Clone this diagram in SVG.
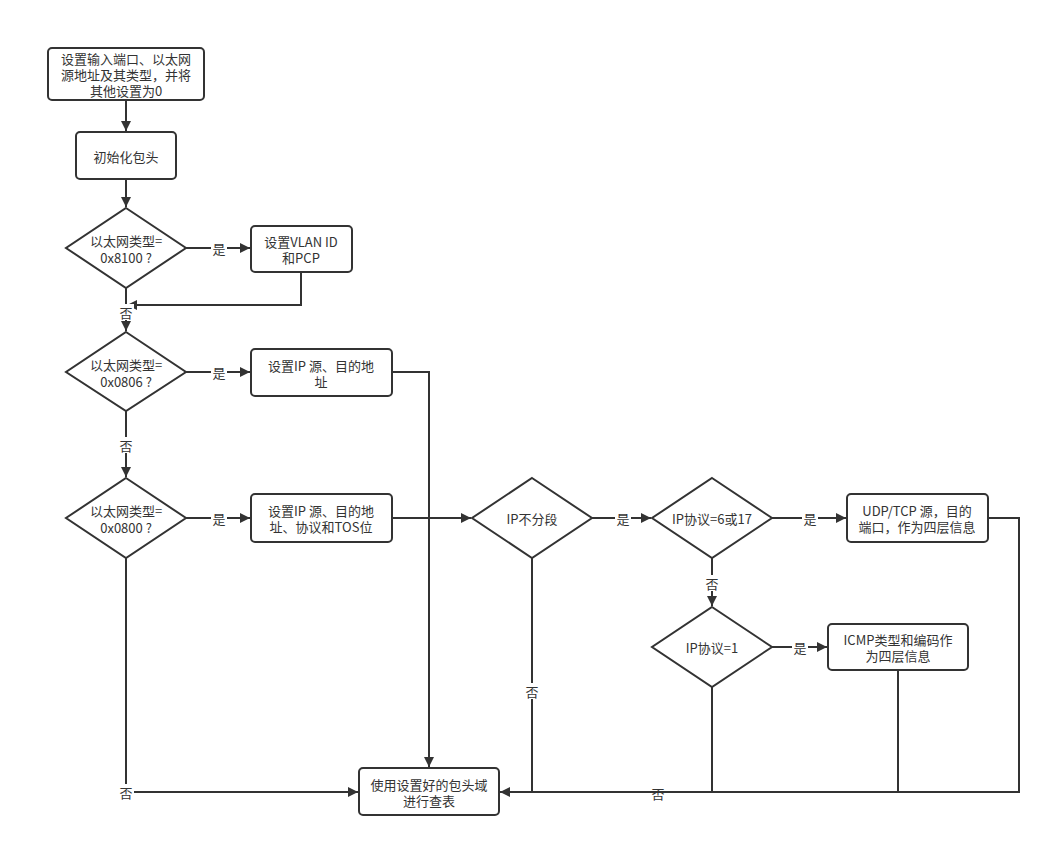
<svg xmlns="http://www.w3.org/2000/svg" width="1051" height="847" viewBox="0 0 1051 847">
<style>
.n{fill:#fff;stroke:#333;stroke-width:2}
.t{font-family:"Noto Sans CJK SC","Liberation Sans",sans-serif;font-size:13px;fill:#333;text-anchor:middle;dominant-baseline:central}
.c{fill:none;stroke:#333;stroke-width:2}
.lb{fill:#fff}
</style>
<defs>
<marker id="a" viewBox="0 0 10 10" refX="10" refY="5" markerWidth="12" markerHeight="10" markerUnits="userSpaceOnUse" orient="auto">
<path d="M0,0L10,5L0,10z" fill="#333"/>
</marker>
</defs>
<rect width="1051" height="847" fill="#fff"/>
<g id="connectors">
<path class="c" d="M126,100V131" marker-end="url(#a)"/>
<path class="c" d="M126,179V207" marker-end="url(#a)"/>
<path class="c" d="M186,248H250" marker-end="url(#a)"/>
<path class="c" d="M301,272V305H127" marker-end="url(#a)"/>
<path class="c" d="M126,288V331" marker-end="url(#a)"/>
<path class="c" d="M186,372H250" marker-end="url(#a)"/>
<path class="c" d="M392,372H429V767" marker-end="url(#a)"/>
<path class="c" d="M126,411V477" marker-end="url(#a)"/>
<path class="c" d="M186,518H250" marker-end="url(#a)"/>
<path class="c" d="M392,518H471" marker-end="url(#a)"/>
<path class="c" d="M126,558V792H358" marker-end="url(#a)"/>
<path class="c" d="M592,518H651" marker-end="url(#a)"/>
<path class="c" d="M772,518H846" marker-end="url(#a)"/>
<path class="c" d="M712,558V606" marker-end="url(#a)"/>
<path class="c" d="M772,647H827" marker-end="url(#a)"/>
<path class="c" d="M988,518H1019V792H500" marker-end="url(#a)"/>
<path class="c" d="M532,558V792"/>
<path class="c" d="M712,687V792"/>
<path class="c" d="M898,670V792"/>
<g id="labels">
<rect class="lb" x="211" y="240" width="16" height="16"/><text class="t" x="219" y="248">是</text>
<rect class="lb" x="118" y="304" width="16" height="16"/><text class="t" x="126" y="312">否</text>
<rect class="lb" x="211" y="364" width="16" height="16"/><text class="t" x="219" y="372">是</text>
<rect class="lb" x="118" y="437" width="16" height="16"/><text class="t" x="126" y="445">否</text>
<rect class="lb" x="211" y="510" width="16" height="16"/><text class="t" x="219" y="518">是</text>
<rect class="lb" x="118" y="784" width="16" height="16"/><text class="t" x="126" y="792">否</text>
<rect class="lb" x="615" y="510" width="16" height="16"/><text class="t" x="623" y="518">是</text>
<rect class="lb" x="802" y="510" width="16" height="16"/><text class="t" x="810" y="518">是</text>
<rect class="lb" x="704" y="575" width="16" height="16"/><text class="t" x="712" y="583">否</text>
<rect class="lb" x="792" y="639" width="16" height="16"/><text class="t" x="800" y="647">是</text>
<rect class="lb" x="524" y="683" width="16" height="16"/><text class="t" x="532" y="691">否</text>
<text class="t" x="658" y="793">否</text>
</g>
</g>
<g id="n1"><rect class="n" x="48" y="48" width="156" height="52" rx="4"/><text class="t" x="126" y="58">设置输入端口、以太网<tspan x="126" dy="16">源地址及其类型，并将</tspan><tspan x="126" dy="16">其他设置为0</tspan></text></g>
<g id="n2"><rect class="n" x="76" y="132" width="100" height="47" rx="4"/><text class="t" x="126" y="156">初始化包头</text></g>
<g id="d1"><path class="n" d="M126,208L186,248L126,288L66,248z"/><text class="t" x="126" y="240">以太网类型=<tspan x="126" dy="17">0x8100 ?</tspan></text></g>
<g id="n3"><rect class="n" x="251" y="226" width="101" height="46" rx="4"/><text class="t" x="301" y="241">设置VLAN ID<tspan x="301" dy="16">和PCP</tspan></text></g>
<g id="d2"><path class="n" d="M126,332L186,372L126,411L66,372z"/><text class="t" x="126" y="364">以太网类型=<tspan x="126" dy="17">0x0806 ?</tspan></text></g>
<g id="n4"><rect class="n" x="251" y="349" width="141" height="47" rx="4"/><text class="t" x="321" y="365">设置IP 源、目的地<tspan x="321" dy="16">址</tspan></text></g>
<g id="d3"><path class="n" d="M126,478L186,518L126,558L66,518z"/><text class="t" x="126" y="510">以太网类型=<tspan x="126" dy="17">0x0800 ?</tspan></text></g>
<g id="n5"><rect class="n" x="251" y="494" width="141" height="48" rx="4"/><text class="t" x="321" y="510">设置IP 源、目的地<tspan x="321" dy="16">址、协议和TOS位</tspan></text></g>
<g id="d4"><path class="n" d="M532,478L592,518L532,558L472,518z"/><text class="t" x="532" y="518">IP不分段</text></g>
<g id="d5"><path class="n" d="M712,478L772,518L712,558L652,518z"/><text class="t" x="712" y="518">IP协议=6或17</text></g>
<g id="n6"><rect class="n" x="847" y="494" width="141" height="48" rx="4"/><text class="t" x="917" y="510">UDP/TCP 源，目的<tspan x="917" dy="16">端口，作为四层信息</tspan></text></g>
<g id="d6"><path class="n" d="M712,607L772,647L712,687L652,647z"/><text class="t" x="712" y="647">IP协议=1</text></g>
<g id="n7"><rect class="n" x="828" y="624" width="140" height="46" rx="4"/><text class="t" x="898" y="639">ICMP类型和编码作<tspan x="898" dy="16">为四层信息</tspan></text></g>
<g id="n8"><rect class="n" x="359" y="768" width="140" height="47" rx="4"/><text class="t" x="429" y="784">使用设置好的包头域<tspan x="429" dy="16">进行查表</tspan></text></g>
</svg>
